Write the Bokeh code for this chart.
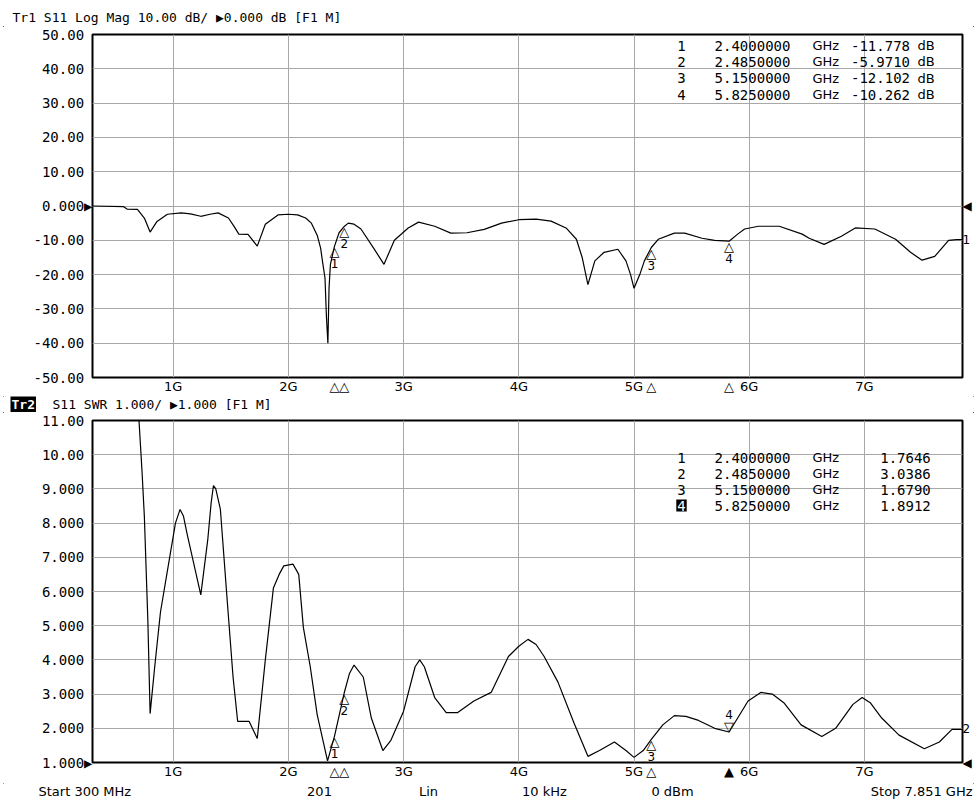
from bokeh.plotting import figure
from bokeh.layouts import column, row
from bokeh.models import ColumnDataSource, FixedTicker, Label, LabelSet, Range1d, LinearAxis
from bokeh.core.properties import value
from bokeh.embed import file_html
from bokeh.resources import INLINE

# ---------------- data ----------------
f_start = 0.300
f_stop = 7.851
freq_ticks = [1, 2, 3, 4, 5, 6, 7]
freq_tick_labels = ["1G", "2G", "3G", "4G", "5G", "6G", "7G"]

s11_ticks = [50, 40, 30, 20, 10, 0, -10, -20, -30, -40, -50]
s11_tick_labels = ["50.00", "40.00", "30.00", "20.00", "10.00", "0.000",
                   "-10.00", "-20.00", "-30.00", "-40.00", "-50.00"]
s11_ref_level = 0
swr_ticks = [11, 10, 9, 8, 7, 6, 5, 4, 3, 2, 1]
swr_tick_labels = ["11.00", "10.00", "9.000", "8.000", "7.000", "6.000",
                   "5.000", "4.000", "3.000", "2.000", "1.000"]
swr_ref_level = 1

logmag_freq = [0.30, 0.57, 0.60, 0.69, 0.75, 0.80, 0.86, 0.95, 1.07, 1.15, 1.24,
               1.32, 1.39, 1.48, 1.53, 1.57, 1.65, 1.73, 1.80, 1.91, 2.00, 2.08,
               2.15, 2.20, 2.25, 2.28, 2.30, 2.318, 2.33, 2.343, 2.353, 2.365,
               2.40, 2.44, 2.485, 2.52, 2.57, 2.63, 2.74, 2.83, 2.92, 3.04, 3.13,
               3.27, 3.41, 3.55, 3.70, 3.85, 4.00, 4.15, 4.28, 4.41, 4.50, 4.55,
               4.60, 4.66, 4.74, 4.86, 4.93, 4.97, 5.00, 5.05, 5.09, 5.15, 5.21,
               5.35, 5.44, 5.59, 5.70, 5.825, 5.90, 5.96, 6.08, 6.26, 6.46, 6.52,
               6.65, 6.80, 6.92, 7.09, 7.27, 7.40, 7.50, 7.61, 7.73, 7.80, 7.851]
logmag_db = [0.0, -0.2, -0.9, -1.0, -3.5, -7.6, -4.5, -2.4, -2.0, -2.3, -3.0,
             -2.4, -2.0, -3.5, -6.0, -8.2, -8.3, -11.7, -5.3, -2.6, -2.4, -2.6,
             -3.5, -5.0, -8.5, -12.3, -17.0, -21.0, -32.0, -40.0, -24.0, -17.0,
             -11.778, -7.8, -5.971, -5.0, -5.3, -6.7, -12.3, -17.0, -10.0, -6.4, -4.7,
             -5.9, -7.9, -7.8, -6.8, -5.0, -4.0, -3.8, -4.4, -6.4, -9.7, -15.0,
             -22.9, -16.0, -13.5, -12.6, -16.0, -20.0, -24.0, -20.0, -16.0, -12.102, -9.7,
             -7.9, -7.9, -9.4, -10.0, -10.262, -8.2, -6.7, -5.9, -5.9, -8.2, -9.4,
             -11.2, -8.8, -6.4, -6.7, -9.7, -13.5, -15.8, -14.7, -10.0, -9.8, -9.8]

swr_freq = [0.30, 0.70, 0.73, 0.75, 0.78, 0.80, 0.84, 0.89, 0.98, 1.02, 1.06, 1.09,
            1.12, 1.20, 1.24, 1.30, 1.33, 1.35, 1.37, 1.41, 1.47, 1.52, 1.56, 1.66,
            1.73, 1.80, 1.87, 1.92, 1.96, 2.04, 2.09, 2.13, 2.19, 2.25, 2.34, 2.40,
            2.485, 2.53, 2.57, 2.65, 2.72, 2.82, 2.89, 3.00, 3.10, 3.14, 3.18, 3.27,
            3.37, 3.47, 3.61, 3.76, 3.91, 4.00, 4.08, 4.15, 4.22, 4.34, 4.48, 4.60,
            4.70, 4.83, 4.93, 5.00, 5.08, 5.15, 5.25, 5.35, 5.45, 5.56, 5.70, 5.825,
            5.90, 5.99, 6.10, 6.20, 6.30, 6.45, 6.63, 6.75, 6.90, 6.98, 7.05, 7.15,
            7.30, 7.52, 7.65, 7.76, 7.851]
swr_val = [14.0, 11.2, 9.5, 8.2, 5.2, 2.43, 3.8, 5.4, 7.2, 8.0, 8.4, 8.2,
           7.7, 6.5, 5.9, 7.5, 8.6, 9.1, 9.0, 8.4, 5.7, 3.5, 2.2, 2.2,
           1.7, 4.0, 6.1, 6.5, 6.75, 6.8, 6.5, 4.95, 3.8, 2.4, 1.05, 1.7646,
           3.0386, 3.6, 3.85, 3.5, 2.3, 1.35, 1.65, 2.5, 3.8, 4.0, 3.8, 2.9,
           2.46, 2.46, 2.8, 3.05, 4.1, 4.4, 4.6, 4.45, 4.1, 3.35, 2.15, 1.18,
           1.35, 1.6, 1.35, 1.15, 1.35, 1.679, 2.1, 2.37, 2.35, 2.23, 2.0, 1.8912,
           2.3, 2.8, 3.05, 3.0, 2.75, 2.1, 1.76, 2.0, 2.7, 2.9, 2.75, 2.3,
           1.8, 1.4, 1.6, 1.97, 1.97]

marker_ids = ["1", "2", "3", "4"]
marker_freq = [2.4, 2.485, 5.15, 5.825]
marker_freq_text = ["2.4000000", "2.4850000", "5.1500000", "5.8250000"]
marker_db = [-11.778, -5.971, -12.102, -10.262]
marker_db_text = ["-11.778", "-5.9710", "-12.102", "-10.262"]
marker_swr = [1.7646, 3.0386, 1.6790, 1.8912]
marker_swr_text = ["1.7646", "3.0386", "1.6790", "1.8912"]
active_marker = 3  # index of the active (filled) marker in trace 2

# ---------------- styling helpers ----------------
MONO = "DejaVu Sans Mono"
SANS = "DejaVu Sans"
W = 977
FRAME_LEFT = 92
FRAME_RIGHT = 962


def base_fig(height, b_top, b_bottom, y_lo, y_hi, yticks, ylabels, ref_level,
             axis_marks, end_label, end_value):
    p = figure(width=W, height=height, output_backend="svg", toolbar_location=None,
               x_range=Range1d(f_start, f_stop), y_range=Range1d(y_lo, y_hi),
               min_border_left=FRAME_LEFT, min_border_right=W - FRAME_RIGHT,
               min_border_top=b_top, min_border_bottom=b_bottom)
    p.background_fill_color = "white"
    p.border_fill_color = "white"
    p.outline_line_color = "black"
    p.outline_line_width = 2
    xt = freq_ticks + marker_freq
    xl = dict(zip(freq_ticks, freq_tick_labels))
    xl.update(dict(zip(marker_freq, axis_marks)))
    p.xaxis.ticker = FixedTicker(ticks=xt)
    p.xaxis.major_label_overrides = xl
    yl = {t: lab + ("\u25b6" if t == ref_level else "\u00a0") for t, lab in zip(yticks, ylabels)}
    p.yaxis.ticker = FixedTicker(ticks=yticks)
    p.yaxis.major_label_overrides = yl
    ra = LinearAxis(ticker=FixedTicker(ticks=[ref_level, end_value]),
                    major_label_overrides={ref_level: "\u25c0", end_value: end_label})
    p.add_layout(ra, "right")
    for ax in (p.xaxis[0], p.yaxis[0], ra):
        ax.axis_line_color = None
        ax.major_tick_line_color = None
        ax.minor_tick_line_color = None
        ax.major_tick_in = 0
        ax.major_tick_out = 0
        ax.major_label_text_color = "black"
    p.xaxis.major_label_text_font = SANS
    p.xaxis.major_label_text_font_size = "13px"
    p.xaxis.major_label_standoff = 1
    p.yaxis[0].major_label_text_font = MONO
    p.yaxis[0].major_label_text_font_size = "14px"
    p.yaxis[0].major_label_standoff = 0
    ra.major_label_text_font = SANS
    ra.major_label_text_font_size = "12px"
    ra.major_label_standoff = 0
    p.xgrid.ticker = FixedTicker(ticks=freq_ticks)
    p.ygrid.ticker = FixedTicker(ticks=yticks)
    p.grid.grid_line_color = "#a8a8a8"
    p.grid.grid_line_width = 1
    return p


def text_fig(height):
    t = figure(width=W, height=height, output_backend="svg", toolbar_location=None,
               x_range=Range1d(0, W), y_range=Range1d(height, 0),
               x_axis_type=None, y_axis_type=None, min_border=0,
               min_border_left=0, min_border_right=0, min_border_top=0, min_border_bottom=0)
    t.outline_line_color = None
    t.background_fill_color = "white"
    t.border_fill_color = "white"
    return t


def tlabel(t, x, y, text, align="left", font=MONO, size="13px", color="black", **kw):
    t.add_layout(Label(x=x, y=y, text=text, text_align=align, text_baseline="middle",
                       text_font=font, text_font_size=size, text_color=color, **kw))


def frame_label(p, frame_top, y_top, rx, ry, text, align="left", font=MONO,
                size="14px", color="black", **kw):
    p.add_layout(Label(x=f_start, y=y_top, x_offset=rx - FRAME_LEFT,
                       y_offset=frame_top - ry, text=text, text_align=align,
                       text_baseline="middle", text_font=font, text_font_size=size,
                       text_color=color, **kw))


def labelset(p, xs, ys, texts, size, baseline, y_off, font=SANS, align="center"):
    src = ColumnDataSource(dict(x=xs, y=ys, text=texts))
    p.add_layout(LabelSet(x="x", y="y", text="text", source=src,
                          y_offset=y_off, text_align=align, text_baseline=baseline,
                          text_font=value(font), text_font_size=value(size),
                          text_color="black"))


# ---------------- header 1 ----------------
h1 = text_fig(26)
tlabel(h1, 12, 17, "Tr1 S11 Log Mag 10.00 dB/ \u25b60.000 dB [F1 M]")

# ---------------- Trace 1: Log Mag ----------------
p1 = base_fig(370, 8, 18, -50, 50, s11_ticks, s11_tick_labels, s11_ref_level,
              ["\u25b3"] * 4, "1", logmag_db[-1])
p1.line(logmag_freq, logmag_db, line_color="black", line_width=1.2)

rows1 = [45, 61, 77.5, 94]
for i in range(4):
    ry = rows1[i]
    frame_label(p1, 34, 50, 681, ry, marker_ids[i], align="center")
    frame_label(p1, 34, 50, 752, ry, marker_freq_text[i], align="center")
    frame_label(p1, 34, 50, 812, ry, "GHz", font=SANS, size="13px")
    frame_label(p1, 34, 50, 880, ry, marker_db_text[i], align="center")
    frame_label(p1, 34, 50, 917, ry, "dB", font=SANS, size="13px")

labelset(p1, marker_freq, marker_db, ["\u25b3"] * 4, "13px", "top", 2)
labelset(p1, marker_freq, marker_db, marker_ids, "12px", "top", -13)

# ---------------- header 2 ----------------
h2 = text_fig(16)
tlabel(h2, 10, 8, "Tr2", color="white", background_fill_color="black",
       text_font_style="bold", padding=1)
tlabel(h2, 52, 8, "S11 SWR 1.000/ \u25b61.000 [F1 M]")

# ---------------- Trace 2: SWR ----------------
axis_marks2 = ["\u25b2" if i == active_marker else "\u25b3" for i in range(4)]
p2 = base_fig(371, 8, 21, 1, 11, swr_ticks, swr_tick_labels, swr_ref_level,
              axis_marks2, "2", swr_val[-1])
p2.line(swr_freq, swr_val, line_color="black", line_width=1.2)

rows2 = [457, 473, 489, 505]
for i in range(4):
    ry = rows2[i]
    if i == active_marker:
        frame_label(p2, 420, 11, 681, ry, marker_ids[i], align="center", color="white",
                    background_fill_color="black", padding=1)
    else:
        frame_label(p2, 420, 11, 681, ry, marker_ids[i], align="center")
    frame_label(p2, 420, 11, 752, ry, marker_freq_text[i], align="center")
    frame_label(p2, 420, 11, 812, ry, "GHz", font=SANS, size="13px")
    frame_label(p2, 420, 11, 905, ry, marker_swr_text[i], align="center")

idx = [i for i in range(4) if i != active_marker]
labelset(p2, [marker_freq[i] for i in idx], [marker_swr[i] for i in idx],
         ["\u25b3"] * 3, "13px", "top", 2)
labelset(p2, [marker_freq[i] for i in idx], [marker_swr[i] for i in idx],
         [marker_ids[i] for i in idx], "12px", "top", -13)
labelset(p2, [marker_freq[active_marker]], [marker_swr[active_marker]],
         ["\u25bd"], "13px", "bottom", -2)
labelset(p2, [marker_freq[active_marker]], [marker_swr[active_marker]],
         [marker_ids[active_marker]], "12px", "bottom", 13)

# ---------------- status bar ----------------
sb = text_fig(22)
tlabel(sb, 38, 8, "Start 300 MHz", font=SANS)
tlabel(sb, 319, 8, "201", align="center", font=SANS)
tlabel(sb, 428, 8, "Lin", align="center", font=SANS)
tlabel(sb, 544, 8, "10 kHz", align="center", font=SANS)
tlabel(sb, 672, 8, "0 dBm", align="center", font=SANS)
tlabel(sb, 972, 8, "Stop 7.851 GHz", align="right", font=SANS)

layout = column(row(h1), p1, row(h2), p2, row(sb))
layout.styles = {"outline": "1px solid #333333", "outline-offset": "-4px"}
open("out.html", "w").write(file_html(layout, INLINE))
